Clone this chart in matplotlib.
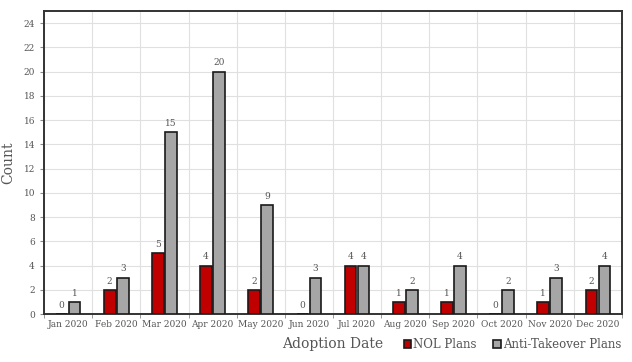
import numpy as np
import matplotlib.pyplot as plt

months = ["Jan 2020", "Feb 2020", "Mar 2020", "Apr 2020", "May 2020", "Jun 2020",
          "Jul 2020", "Aug 2020", "Sep 2020", "Oct 2020", "Nov 2020", "Dec 2020"]
nol_plans = [0, 2, 5, 4, 2, 0, 4, 1, 1, 0, 1, 2]
anti_takeover = [1, 3, 15, 20, 9, 3, 4, 2, 4, 2, 3, 4]

plt.rcParams['font.family'] = ['DejaVu Serif']
txt = '#555555'

fig = plt.figure(figsize=(6.32, 3.62), dpi=100)
ax = fig.add_axes([44 / 632, 1 - 314 / 362, 578 / 632, 303 / 362])

x = np.arange(len(months))
w = 0.24
b1 = ax.bar(x - 0.135, nol_plans, w, color='#C00000', edgecolor='#1a1a1a', lw=1.2,
            label='NOL Plans', zorder=3)
b2 = ax.bar(x + 0.135, anti_takeover, w, color='#A6A6A6', edgecolor='#1a1a1a', lw=1.2,
            label='Anti-Takeover Plans', zorder=3)
ax.bar_label(b1, padding=3, fontsize=6.5, color=txt)
ax.bar_label(b2, padding=3, fontsize=6.5, color=txt)

ax.set_xlim(-0.5, len(months) - 0.5)
ax.set_ylim(0, 25)
ax.set_yticks(np.arange(0, 25, 2))
ax.set_xticks(x)
ax.set_xticklabels(months)
ax.set_xticks(np.arange(-0.5, len(months), 1), minor=True)
ax.tick_params(axis='x', which='major', length=0, pad=4, labelsize=6.5, labelcolor=txt)
ax.tick_params(axis='x', which='minor', length=3, color='#888888')
ax.tick_params(axis='y', length=3, color='#888888', labelsize=6.5, labelcolor=txt)
ax.grid(True, which='minor', axis='x', color='#e0e0e0', lw=0.8, zorder=0)
ax.grid(True, which='major', axis='y', color='#e0e0e0', lw=0.8, zorder=0)

for s in ax.spines.values():
    s.set_color('#333333')
    s.set_linewidth(1.4)

ax.set_ylabel('Count', fontsize=10, color=txt, labelpad=6)
ax.set_xlabel('Adoption Date', fontsize=10, color=txt, labelpad=6)

fig.legend(handles=[b1, b2], loc='center right', bbox_to_anchor=(621 / 632, 1 - 345 / 362),
           ncol=2, frameon=False, fontsize=8.5, labelcolor=txt, handlelength=0.65,
           handleheight=0.65, handletextpad=0.15, columnspacing=1.4, borderaxespad=0,
           borderpad=0)

fig.savefig('out.png', dpi=100)
